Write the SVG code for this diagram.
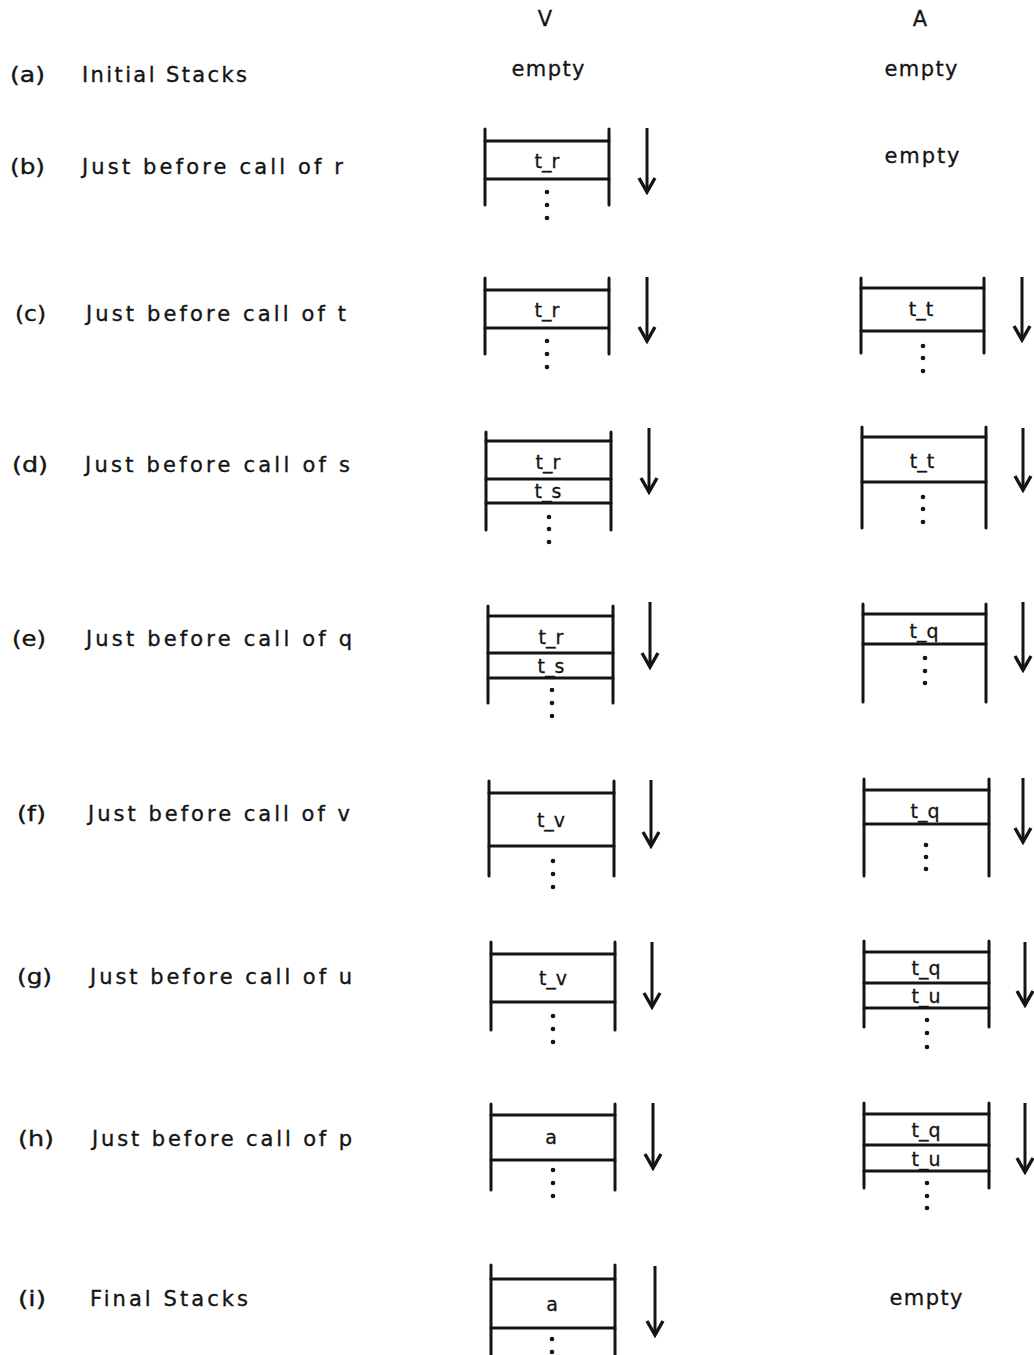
<svg xmlns="http://www.w3.org/2000/svg" width="1034" height="1355" viewBox="0 0 1034 1355">
<style>
text{font-family:"DejaVu Sans","Liberation Sans",sans-serif;fill:#141414}
.lb{font-size:21px;stroke:#141414;stroke-width:0.35}
.hd{font-size:21px;text-anchor:middle;stroke:#141414;stroke-width:0.3}
.cell{font-size:19px;text-anchor:middle;stroke:#141414;stroke-width:0.3}
.st line,.st path{stroke:#141414;stroke-width:3;fill:none;stroke-linecap:round}
.dot{fill:#141414}
.arr{stroke:#141414;stroke-width:3;fill:none;marker-end:url(#ah)}
</style>
<defs>
<marker id="ah" viewBox="0 0 20 20" markerWidth="20" markerHeight="20" refX="17" refY="10" orient="auto" markerUnits="userSpaceOnUse">
<path d="M3 2 L17 10 L3 18" fill="none" stroke="#141414" stroke-width="3.4" stroke-linejoin="miter"/>
</marker>
</defs>
<rect width="1034" height="1355" fill="#ffffff"/>

<g id="headers">
<text class="hd" x="545" y="26">V</text>
<text class="hd" x="920" y="26">A</text>
</g>

<g id="row-a">
<text class="lb" x="10" y="82" textLength="35" lengthAdjust="spacingAndGlyphs">(a)</text>
<text class="lb" x="82" y="82" textLength="165" lengthAdjust="spacing">Initial Stacks</text>
<text class="hd" x="548" y="76" textLength="73" lengthAdjust="spacing">empty</text>
<text class="hd" x="921" y="76" textLength="73" lengthAdjust="spacing">empty</text>
</g>
<g id="row-b">
<text class="lb" x="10" y="174" textLength="35" lengthAdjust="spacingAndGlyphs">(b)</text>
<text class="lb" x="82" y="174" textLength="261" lengthAdjust="spacing">Just before call of r</text>
<text class="hd" x="922" y="163" textLength="75" lengthAdjust="spacing">empty</text>
</g>
<g id="row-c">
<text class="lb" x="15" y="321" textLength="31" lengthAdjust="spacingAndGlyphs">(c)</text>
<text class="lb" x="86" y="321" textLength="260" lengthAdjust="spacing">Just before call of t</text>
</g>
<g id="row-d">
<text class="lb" x="12" y="472" textLength="36" lengthAdjust="spacingAndGlyphs">(d)</text>
<text class="lb" x="85" y="472" textLength="265" lengthAdjust="spacing">Just before call of s</text>
</g>
<g id="row-e">
<text class="lb" x="12" y="646" textLength="34" lengthAdjust="spacingAndGlyphs">(e)</text>
<text class="lb" x="86" y="646" textLength="266" lengthAdjust="spacing">Just before call of q</text>
</g>
<g id="row-f">
<text class="lb" x="17" y="821" textLength="29" lengthAdjust="spacingAndGlyphs">(f)</text>
<text class="lb" x="88" y="821" textLength="262" lengthAdjust="spacing">Just before call of v</text>
</g>
<g id="row-g">
<text class="lb" x="17" y="984" textLength="35" lengthAdjust="spacingAndGlyphs">(g)</text>
<text class="lb" x="90" y="984" textLength="262" lengthAdjust="spacing">Just before call of u</text>
</g>
<g id="row-h">
<text class="lb" x="18" y="1146" textLength="36" lengthAdjust="spacingAndGlyphs">(h)</text>
<text class="lb" x="92" y="1146" textLength="260" lengthAdjust="spacing">Just before call of p</text>
</g>
<g id="row-i">
<text class="lb" x="18" y="1306" textLength="28" lengthAdjust="spacingAndGlyphs">(i)</text>
<text class="lb" x="90" y="1306" textLength="158" lengthAdjust="spacing">Final Stacks</text>
<text class="hd" x="926" y="1305" textLength="73" lengthAdjust="spacing">empty</text>
</g>

<!-- V stacks -->
<g id="stack-b-V" class="st">
<line x1="485" y1="129" x2="485" y2="205"/><line x1="609" y1="129" x2="609" y2="205"/>
<line x1="485" y1="141" x2="609" y2="141"/><line x1="485" y1="179" x2="609" y2="179"/>
<text class="cell" x="547" y="168">t_r</text>
<circle class="dot" cx="547" cy="192" r="2.3"/><circle class="dot" cx="547" cy="205" r="2.3"/><circle class="dot" cx="547" cy="218" r="2.3"/>
</g>
<g id="stack-c-V" class="st">
<line x1="485" y1="278" x2="485" y2="354"/><line x1="609" y1="278" x2="609" y2="354"/>
<line x1="485" y1="290" x2="609" y2="290"/><line x1="485" y1="328" x2="609" y2="328"/>
<text class="cell" x="547" y="317">t_r</text>
<circle class="dot" cx="547" cy="341" r="2.3"/><circle class="dot" cx="547" cy="354" r="2.3"/><circle class="dot" cx="547" cy="367" r="2.3"/>
</g>
<g id="stack-d-V" class="st">
<line x1="486" y1="432" x2="486" y2="530"/><line x1="611" y1="432" x2="611" y2="530"/>
<line x1="486" y1="441" x2="611" y2="441"/><line x1="486" y1="479" x2="611" y2="479"/><line x1="486" y1="503" x2="611" y2="503"/>
<text class="cell" x="548" y="469">t_r</text>
<text class="cell" x="548" y="498">t_s</text>
<circle class="dot" cx="549" cy="517" r="2.3"/><circle class="dot" cx="549" cy="529" r="2.3"/><circle class="dot" cx="549" cy="542" r="2.3"/>
</g>
<g id="stack-e-V" class="st">
<line x1="488" y1="606" x2="488" y2="703"/><line x1="613" y1="606" x2="613" y2="703"/>
<line x1="488" y1="616" x2="613" y2="616"/><line x1="488" y1="653" x2="613" y2="653"/><line x1="488" y1="678" x2="613" y2="678"/>
<text class="cell" x="551" y="644">t_r</text>
<text class="cell" x="551" y="673">t_s</text>
<circle class="dot" cx="552" cy="690" r="2.3"/><circle class="dot" cx="552" cy="703" r="2.3"/><circle class="dot" cx="552" cy="716" r="2.3"/>
</g>
<g id="stack-f-V" class="st">
<line x1="489" y1="781" x2="489" y2="876"/><line x1="614" y1="781" x2="614" y2="876"/>
<line x1="489" y1="793" x2="614" y2="793"/><line x1="489" y1="846" x2="614" y2="846"/>
<text class="cell" x="551" y="827">t_v</text>
<circle class="dot" cx="553" cy="861" r="2.3"/><circle class="dot" cx="553" cy="874" r="2.3"/><circle class="dot" cx="553" cy="887" r="2.3"/>
</g>
<g id="stack-g-V" class="st">
<line x1="491" y1="942" x2="491" y2="1030"/><line x1="615" y1="942" x2="615" y2="1030"/>
<line x1="491" y1="954" x2="615" y2="954"/><line x1="491" y1="1002" x2="615" y2="1002"/>
<text class="cell" x="553" y="985">t_v</text>
<circle class="dot" cx="553" cy="1016" r="2.3"/><circle class="dot" cx="553" cy="1029" r="2.3"/><circle class="dot" cx="553" cy="1042" r="2.3"/>
</g>
<g id="stack-h-V" class="st">
<line x1="491" y1="1104" x2="491" y2="1190"/><line x1="615" y1="1104" x2="615" y2="1190"/>
<line x1="491" y1="1115" x2="615" y2="1115"/><line x1="491" y1="1160" x2="615" y2="1160"/>
<text class="cell" x="551" y="1144">a</text>
<circle class="dot" cx="553" cy="1170" r="2.3"/><circle class="dot" cx="553" cy="1183" r="2.3"/><circle class="dot" cx="553" cy="1196" r="2.3"/>
</g>
<g id="stack-i-V" class="st">
<line x1="491" y1="1265" x2="491" y2="1355"/><line x1="615" y1="1265" x2="615" y2="1355"/>
<line x1="491" y1="1279" x2="615" y2="1279"/><line x1="491" y1="1328" x2="615" y2="1328"/>
<text class="cell" x="552" y="1311">a</text>
<circle class="dot" cx="552" cy="1339" r="2.3"/><circle class="dot" cx="552" cy="1352" r="2.3"/>
</g>

<!-- A stacks -->
<g id="stack-c-A" class="st">
<line x1="861" y1="278" x2="861" y2="353"/><line x1="984" y1="278" x2="984" y2="353"/>
<line x1="861" y1="288" x2="984" y2="288"/><line x1="861" y1="331" x2="984" y2="331"/>
<text class="cell" x="921" y="316">t_t</text>
<circle class="dot" cx="923" cy="346" r="2.3"/><circle class="dot" cx="923" cy="358" r="2.3"/><circle class="dot" cx="923" cy="371" r="2.3"/>
</g>
<g id="stack-d-A" class="st">
<line x1="862" y1="427" x2="862" y2="528"/><line x1="986" y1="427" x2="986" y2="528"/>
<line x1="862" y1="437" x2="986" y2="437"/><line x1="862" y1="482" x2="986" y2="482"/>
<text class="cell" x="922" y="468">t_t</text>
<circle class="dot" cx="923" cy="497" r="2.3"/><circle class="dot" cx="923" cy="509" r="2.3"/><circle class="dot" cx="923" cy="522" r="2.3"/>
</g>
<g id="stack-e-A" class="st">
<line x1="863" y1="604" x2="863" y2="702"/><line x1="986" y1="604" x2="986" y2="702"/>
<line x1="863" y1="614" x2="986" y2="614"/><line x1="863" y1="644" x2="986" y2="644"/>
<text class="cell" x="924" y="638">t_q</text>
<circle class="dot" cx="925" cy="658" r="2.3"/><circle class="dot" cx="925" cy="671" r="2.3"/><circle class="dot" cx="925" cy="683" r="2.3"/>
</g>
<g id="stack-f-A" class="st">
<line x1="864" y1="779" x2="864" y2="876"/><line x1="989" y1="779" x2="989" y2="876"/>
<line x1="864" y1="790" x2="989" y2="790"/><line x1="864" y1="824" x2="989" y2="824"/>
<text class="cell" x="925" y="818">t_q</text>
<circle class="dot" cx="926" cy="845" r="2.3"/><circle class="dot" cx="926" cy="857" r="2.3"/><circle class="dot" cx="926" cy="869" r="2.3"/>
</g>
<g id="stack-g-A" class="st">
<line x1="864" y1="941" x2="864" y2="1027"/><line x1="989" y1="941" x2="989" y2="1027"/>
<line x1="864" y1="952" x2="989" y2="952"/><line x1="864" y1="983" x2="989" y2="983"/><line x1="864" y1="1008" x2="989" y2="1008"/>
<text class="cell" x="926" y="975">t_q</text>
<text class="cell" x="926" y="1003">t_u</text>
<circle class="dot" cx="927" cy="1020" r="2.3"/><circle class="dot" cx="927" cy="1033" r="2.3"/><circle class="dot" cx="927" cy="1047" r="2.3"/>
</g>
<g id="stack-h-A" class="st">
<line x1="864" y1="1103" x2="864" y2="1188"/><line x1="989" y1="1103" x2="989" y2="1188"/>
<line x1="864" y1="1114" x2="989" y2="1114"/><line x1="864" y1="1145" x2="989" y2="1145"/><line x1="864" y1="1171" x2="989" y2="1171"/>
<text class="cell" x="926" y="1137">t_q</text>
<text class="cell" x="926" y="1166">t_u</text>
<circle class="dot" cx="927" cy="1183" r="2.3"/><circle class="dot" cx="927" cy="1196" r="2.3"/><circle class="dot" cx="927" cy="1208" r="2.3"/>
</g>

<g id="connectors">
<line class="arr" x1="647" y1="128" x2="647" y2="192"/>
<line class="arr" x1="647" y1="277" x2="647" y2="341"/>
<line class="arr" x1="649" y1="428" x2="649" y2="492"/>
<line class="arr" x1="650" y1="602" x2="650" y2="667"/>
<line class="arr" x1="651" y1="780" x2="651" y2="846"/>
<line class="arr" x1="652" y1="942" x2="652" y2="1007"/>
<line class="arr" x1="653" y1="1103" x2="653" y2="1168"/>
<line class="arr" x1="655" y1="1266" x2="655" y2="1335"/>
<line class="arr" x1="1022" y1="277" x2="1022" y2="340"/>
<line class="arr" x1="1023" y1="428" x2="1023" y2="490"/>
<line class="arr" x1="1023" y1="602" x2="1023" y2="670"/>
<line class="arr" x1="1023" y1="778" x2="1023" y2="842"/>
<line class="arr" x1="1025" y1="942" x2="1025" y2="1005"/>
<line class="arr" x1="1025" y1="1103" x2="1025" y2="1172"/>
</g>
</svg>
